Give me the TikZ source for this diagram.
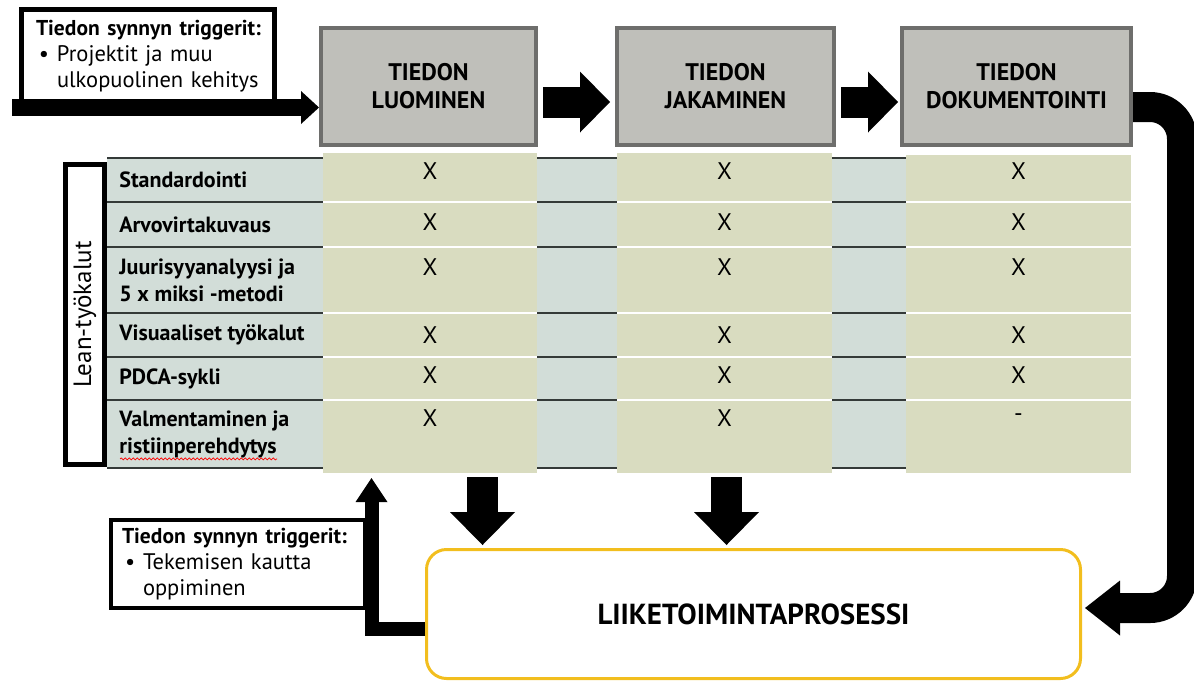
\documentclass[tikz,border=0pt]{standalone}
\usepackage{fontspec}
\setmainfont{PT Sans}
\usetikzlibrary{arrows.meta,calc,decorations.pathmorphing}

\definecolor{phasegray}{RGB}{191,191,186}
\definecolor{phaseedge}{RGB}{110,110,108}
\definecolor{toolbg}{RGB}{210,221,216}
\definecolor{cellbg}{RGB}{217,220,192}
\definecolor{rowrule}{RGB}{52,58,56}
\definecolor{procedge}{RGB}{242,190,30}

\newcommand{\trighead}{\mbox{\bfseries\fontsize{10.75}{13}\selectfont Tiedon synnyn triggerit:}}

\tikzset{
  phase/.style={draw=phaseedge, fill=phasegray, line width=2pt, minimum height=58.5pt,
    inner sep=0pt, align=center, font=\bfseries\fontsize{12}{14}\selectfont},
  trigger/.style={draw=black, fill=white, align=left, inner ysep=0pt,
    font=\fontsize{11.25}{13}\selectfont},
  cellcol/.style={fill=cellbg, inner sep=0pt, minimum height=160pt},
  tool/.style={anchor=west, align=left, inner sep=0pt, font=\bfseries\fontsize{11}{13.5}\selectfont},
  xcell/.style={inner sep=0pt, font=\fontsize{12}{14}\selectfont},
  flow/.style={line width=15.5pt, -{Triangle[length=15pt,width=30.5pt,line width=0pt]}},
  drop/.style={line width=15.5pt, -{Triangle[length=16.5pt,width=32.5pt,line width=0pt]}},
  feed/.style={line width=8.5pt, -{Triangle[length=9pt,width=16.5pt,line width=0pt]}},
  wraparrow/.style={line width=15pt, rounded corners=16pt, -{Triangle[length=17.5pt,width=27.5pt,line width=0pt]}},
  backflow/.style={line width=7pt, line join=miter, -{Triangle[length=12pt,width=16pt,line width=0pt]}},
  process/.style={draw=procedge, line width=1.5pt, rounded corners=10pt, minimum width=327pt,
    minimum height=64.5pt, font=\bfseries\fontsize{14.5}{17}\selectfont},
  spell/.style={draw=red, line width=0.35pt, decorate, decoration={snake, amplitude=0.5pt, segment length=2pt}}
}

\begin{document}
\begin{tikzpicture}[x=0.5pt, y=-0.5pt]
  \useasboundingbox (0,0) rectangle (1194,681);

  % phases of knowledge
  \node[phase, minimum width=107.5pt] (luo) at (428.5,86.5) {TIEDON\\LUOMINEN};
  \node[phase, minimum width=108.5pt] (jak) at (725.5,86.5) {TIEDON\\JAKAMINEN};
  \node[phase, minimum width=114.5pt] (dok) at (1016.5,86.5) {TIEDON\\DOKUMENTOINTI};

  % upper trigger box
  \node[trigger, line width=2.5pt, minimum width=126.5pt, minimum height=46.25pt,
    text width=112pt, inner xsep=7.25pt] (trig1) at (148,55.75)
    {\trighead\\
     \mbox{\hspace*{1.5pt}\makebox[9pt][l]{\textbullet}Projektit ja muu}\\
     \mbox{\hspace*{10.5pt}ulkopuolinen kehitys}};
  \coordinate (feedin) at (12,107.5);
  \draw[feed] (feedin) -- (feedin -| luo.west);

  \draw[flow] ([xshift=2.5pt,yshift=-7.75pt]luo.east) -- ([xshift=-2.5pt,yshift=-7.75pt]jak.west);
  \draw[flow] ([xshift=2.5pt,yshift=-7.75pt]jak.east) -- ([xshift=-1pt,yshift=-7.75pt]dok.west);

  % table of lean tools
  \fill[toolbg] (107,158) rectangle (906,468);
  \foreach \y in {158,202,247,313,357,400,468}
    \draw[rowrule, line width=1.25pt] (107,\y) -- (906,\y);
  \node[cellcol, minimum width=107pt] (colA) at (430,313) {};
  \node[cellcol, minimum width=107.5pt] (colB) at (724.5,313) {};
  \node[cellcol, minimum width=112.5pt, minimum height=159pt] (colC) at (1018.5,314) {};
  \foreach \y in {202,247,313,357,400} {
    \draw[white, line width=1.2pt] (323,\y) -- (537,\y);
    \draw[white, line width=1.2pt] (617,\y) -- (832,\y);
    \draw[white, line width=1.2pt] (906,\y) -- (1131,\y);
  }
  \node[draw, line width=2.5pt, fill=white, rotate=90, minimum width=150pt, minimum height=19.5pt,
    inner sep=0pt, font=\fontsize{12.5}{15}\selectfont] (lean) at (85,314.5) {Lean-työkalut};

  \foreach \i/\ya/\yb/\ox/\lbl/\cm in {1/158/202/13/Standardointi/X,
      2/202/247/20/Arvovirtakuvaus/X,
      3/247/313/20/{Juurisyyanalyysi ja\\5 x miksi -metodi}/X,
      4/313/357/22/Visuaaliset työkalut/X,
      5/357/400/18/PDCA-sykli/X,
      6/400/468/18/{Valmentaminen ja\\ristiinperehdytys}/-} {
    \node[tool] (tool\i) at (119,{(\ya+\yb)/2}) {\lbl};
    \node[xcell] (xa\i) at (430,{\ya+\ox}) {X};
    \node[xcell] (xb\i) at (724.5,{\ya+\ox}) {X};
    \node[xcell] (xc\i) at (1018.5,{\ya+\ox}) {\cm};
  }
  \draw[spell] ($(tool6.south west)+(1,1)$) -- ++(157,0);

  % business process
  \node[process] (lii) at (753.5,614) {LIIKETOIMINTAPROSESSI};

  \coordinate (dropA) at ([xshift=26.25pt,yshift=-2pt]colA.south);
  \coordinate (dropB) at ([xshift=1pt,yshift=-2pt]colB.south);
  \draw[drop] (dropA) -- ($(dropA |- lii.north)+(0,-3)$);
  \draw[drop] (dropB) -- ($(dropB |- lii.north)+(0,-3)$);

  % lower trigger box
  \node[trigger, line width=2pt, minimum width=127pt, minimum height=44pt,
    text width=116pt, inner xsep=5.5pt] (trig2) at (238,564)
    {\trighead\\
     \mbox{\hspace*{1.5pt}\makebox[9pt][l]{\textbullet}Tekemisen kautta}\\
     \mbox{\hspace*{10.5pt}oppiminen}};
  \coordinate (backtip) at (371.5,478);
  \draw[backflow] ($(lii.west)+(0,15)$) -| (backtip);

  \coordinate (wrapturn) at (1182,608);
  \draw[wraparrow] ([yshift=-10.25pt]dok.east) -| (wrapturn) -- ($(lii.east |- wrapturn)+(3,0)$);
\end{tikzpicture}
\end{document}
